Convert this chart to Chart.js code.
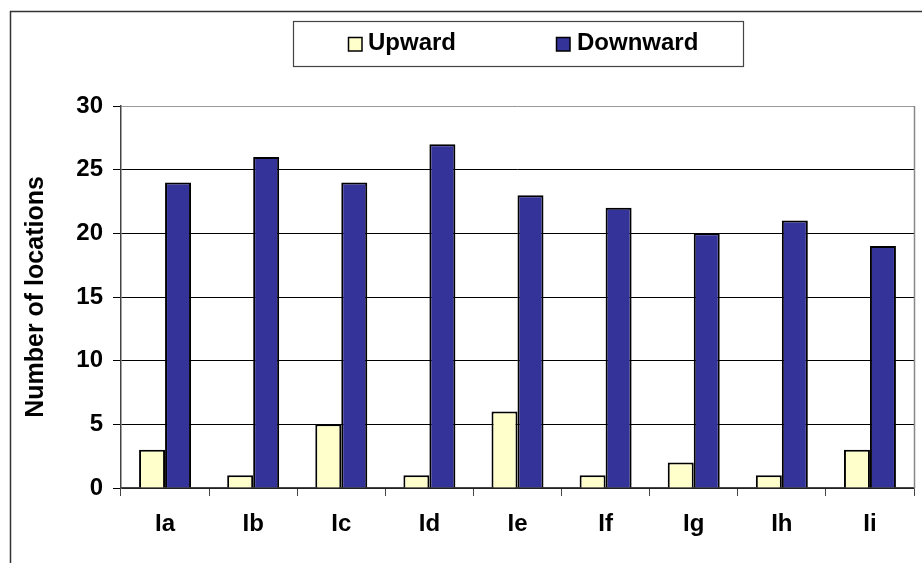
<!DOCTYPE html>
<html>
<head>
<meta charset="utf-8">
<script src="https://cdn.jsdelivr.net/npm/chart.js@4/dist/chart.umd.min.js"></script>
<style>
  html, body { margin: 0; padding: 0; background: #fff; }
  #wrap { position: relative; width: 922px; height: 563px; }
</style>
</head>
<body>
<div id="wrap"><canvas id="c" width="922" height="563"></canvas></div>
<script>
const categories = ['Ia', 'Ib', 'Ic', 'Id', 'Ie', 'If', 'Ig', 'Ih', 'Ii'];
const upward = [3, 1, 5, 1, 6, 1, 2, 1, 3];
const downward = [24, 26, 24, 27, 23, 22, 20, 21, 19];
const yTicks = [0, 5, 10, 15, 20, 25, 30];
const seriesNames = ['Upward', 'Downward'];

const FONT = "'Liberation Sans', Arial, sans-serif";

const framePlugin = {
  id: 'frameAndLegend',
  afterDraw(chart) {
    const ctx = chart.ctx;
    const ca = chart.chartArea;
    ctx.save();
    // outer frame
    ctx.strokeStyle = '#333';
    ctx.lineWidth = 1.5;
    ctx.beginPath();
    ctx.moveTo(10.5, 563);
    ctx.lineTo(10.5, 11.5);
    ctx.lineTo(922, 11.5);
    ctx.stroke();
    // right plot border
    ctx.strokeStyle = '#888';
    ctx.lineWidth = 1.5;
    ctx.beginPath();
    ctx.moveTo(Math.round(ca.right) + 0.5, ca.top);
    ctx.lineTo(Math.round(ca.right) + 0.5, ca.bottom);
    ctx.stroke();
    // legend box
    ctx.strokeStyle = '#444';
    ctx.lineWidth = 1.2;
    ctx.strokeRect(293.5, 21.5, 450, 45);
    const items = [
      { sx: 348, tx: 368 },
      { sx: 556, tx: 577 }
    ];
    ctx.font = "bold 24px " + FONT;
    ctx.textBaseline = 'alphabetic';
    ctx.textAlign = 'left';
    chart.data.datasets.forEach((ds, i) => {
      const it = items[i];
      ctx.fillStyle = ds.backgroundColor;
      ctx.fillRect(it.sx, 37, 14, 14);
      ctx.strokeStyle = '#000';
      ctx.lineWidth = 1.5;
      ctx.strokeRect(it.sx + 0.5, 37.5, 13.5, 13.5);
      ctx.fillStyle = '#000';
      ctx.fillText(ds.label, it.tx, 50);
    });
    ctx.restore();
  }
};

new Chart(document.getElementById('c'), {
  type: 'bar',
  data: {
    labels: categories,
    datasets: [
      { label: seriesNames[0], data: upward, backgroundColor: '#FFFFCC', borderColor: '#000', borderWidth: 2, categoryPercentage: 0.59, barPercentage: 1.0 },
      { label: seriesNames[1], data: downward, backgroundColor: '#333399', borderColor: '#000', borderWidth: 2, categoryPercentage: 0.59, barPercentage: 1.0 }
    ]
  },
  options: {
    responsive: false,
    animation: false,
    devicePixelRatio: 1,
    layout: { padding: { top: 106, right: 8, bottom: 0, left: 0 } },
    plugins: {
      legend: { display: false },
      tooltip: { enabled: false }
    },
    scales: {
      x: {
        offset: true,
        grid: { display: true, drawOnChartArea: false, drawTicks: true, tickLength: 8, color: '#444', offset: true, lineWidth: 1 },
        border: { display: true, color: '#444', width: 1.5 },
        ticks: { color: '#000', font: { family: FONT, size: 24, weight: 'bold' }, padding: 14, maxRotation: 0 },
        afterFit(scale) { scale.height = 75; }
      },
      y: {
        min: 0,
        max: 30,
        afterBuildTicks(scale) { scale.ticks = yTicks.map(v => ({ value: v })); },
        grid: {
          color: (c) => (c.tick && c.tick.value === 30) ? '#999' : '#000',
          tickColor: '#000',
          tickLength: 8,
          lineWidth: 1
        },
        border: { display: true, color: '#444', width: 1.5 },
        ticks: { color: '#000', font: { family: FONT, size: 24, weight: 'bold' }, padding: 10 },
        title: {
          display: true,
          text: 'Number of locations',
          color: '#000',
          font: { family: FONT, size: 25, weight: 'bold' },
          padding: { top: 21, bottom: 0 }
        },
        afterFit(scale) { scale.width = 121; }
      }
    }
  },
  plugins: [framePlugin]
});
</script>
</body>
</html>
